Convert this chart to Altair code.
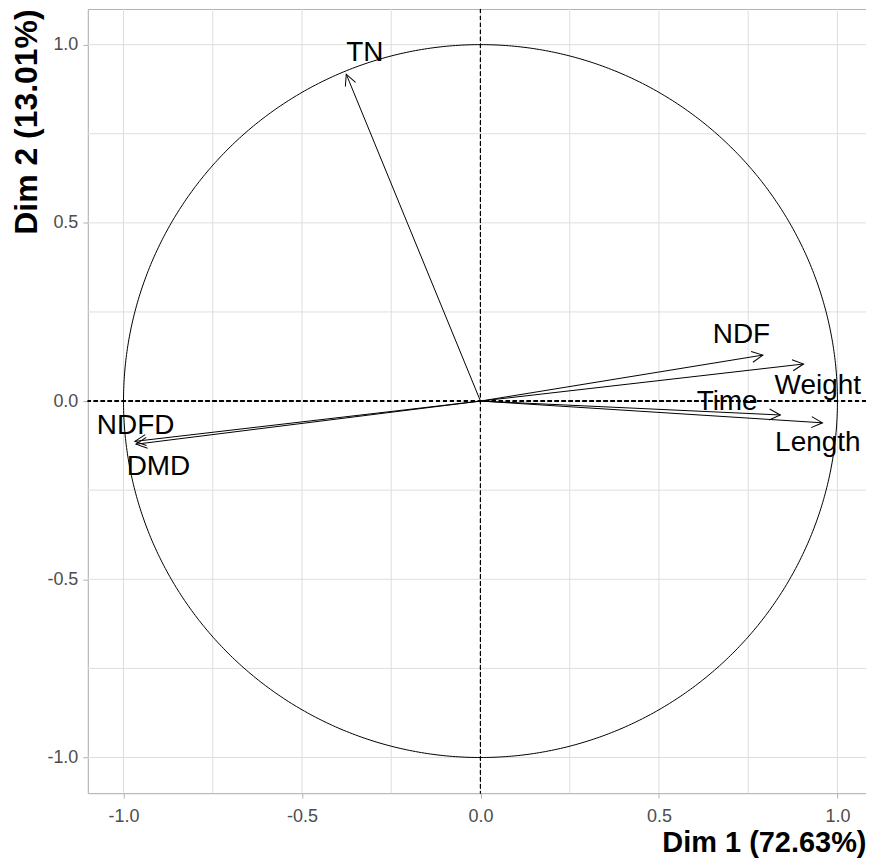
import altair as alt
import numpy as np
import pandas as pd

# ---- data ----
variables = ["TN", "NDF", "Weight", "Time", "Length", "NDFD", "DMD"]
dim1 = [-0.376, 0.791, 0.905, 0.840, 0.958, -0.968, -0.965]
dim2 = [0.917, 0.129, 0.104, -0.039, -0.061, -0.113, -0.121]
label_x = [-0.324, 0.731, 0.945, 0.691, 0.945, -0.966, -0.902]
label_y = [0.977, 0.185, 0.041, -0.004, -0.117, -0.069, -0.186]

tick_values = [-1.0, -0.5, 0.0, 0.5, 1.0]
grid_values = [-1.0, -0.75, -0.5, -0.25, 0.0, 0.25, 0.5, 0.75, 1.0]

x_title = "Dim 1 (72.63%)"
y_title = "Dim 2 (13.01%)"
x_domain = [-1.1, 1.08]
y_domain = [-1.1, 1.1]

FONT = "Liberation Sans"
BORDER = "#B3B3B3"
GRID = "#DEDEDE"
TEXT = "#4D4D4D"

# ---- tables ----
arrows = pd.DataFrame({"var": variables, "x": dim1, "y": dim2})
arrows["x0"] = 0.0
arrows["y0"] = 0.0
arrows["angle"] = (-np.degrees(np.arctan2(arrows["y"], arrows["x"]))) % 360
labels = pd.DataFrame({"var": variables, "lx": label_x, "ly": label_y})

theta = np.linspace(0, 2 * np.pi, 721)
circle = pd.DataFrame({"cx": np.cos(theta), "cy": np.sin(theta), "i": np.arange(len(theta))})
grid = pd.DataFrame({"g": grid_values})

xs = alt.Scale(domain=x_domain, nice=False, zero=False)
ys = alt.Scale(domain=y_domain, nice=False, zero=False)

label_expr = "datum.value < 0 ? '-' + format(-datum.value, '.1f') : format(datum.value, '.1f')"

x_axis = alt.Axis(values=tick_values, labelExpr=label_expr, grid=False, tickSize=5,
                  tickColor=BORDER, domainColor=BORDER, domainWidth=1, tickWidth=1,
                  labelFont=FONT, labelFontSize=18, labelColor=TEXT, labelPadding=9,
                  labelFlush=False, labelOverlap=False,
                  title=x_title, titleFont=FONT, titleFontSize=29, titleFontWeight="bold",
                  titleColor="black", titleAnchor="end", titlePadding=3)
y_axis = alt.Axis(values=tick_values, labelExpr=label_expr, grid=False, tickSize=5,
                  tickColor=BORDER, domainColor=BORDER, domainWidth=1, tickWidth=1,
                  labelFont=FONT, labelFontSize=18, labelColor=TEXT, labelPadding=5,
                  labelFlush=False, labelOverlap=False,
                  title=y_title, titleFont=FONT, titleFontSize=32, titleFontWeight="bold",
                  titleColor="black", titleAnchor="end", titlePadding=3)
top_axis = alt.Axis(orient="top", labels=False, ticks=False, grid=False, domain=True,
                    domainColor=BORDER, domainWidth=1, title=None)

vgrid = alt.Chart(grid).mark_rule(color=GRID, strokeWidth=1).encode(
    x=alt.X("g:Q", scale=xs, axis=top_axis))
hgrid = alt.Chart(grid).mark_rule(color=GRID, strokeWidth=1).encode(
    y=alt.Y("g:Q", scale=ys, axis=None))

hdash = alt.Chart(grid).mark_rule(color="black", strokeWidth=1, strokeDash=[4, 3]).encode(
    y=alt.YDatum(0, scale=ys, axis=None))
vdash = alt.Chart(grid).mark_rule(color="black", strokeWidth=1, strokeDash=[4, 3]).encode(
    x=alt.XDatum(0, scale=xs, axis=None))

circ = alt.Chart(circle).mark_line(color="black", strokeWidth=1).encode(
    x=alt.X("cx:Q", scale=xs, axis=x_axis),
    y=alt.Y("cy:Q", scale=ys, axis=y_axis),
    order="i:Q")

shafts = alt.Chart(arrows).mark_rule(color="black", strokeWidth=1).encode(
    x=alt.X("x0:Q", scale=xs, axis=None), y=alt.Y("y0:Q", scale=ys, axis=None),
    x2="x:Q", y2="y:Q")

heads = alt.Chart(arrows).mark_point(
    shape="M-1,-0.5L0,0L-1,0.5", filled=False, stroke="black", strokeWidth=1,
    size=484, opacity=1).encode(
    x=alt.X("x:Q", scale=xs, axis=None), y=alt.Y("y:Q", scale=ys, axis=None),
    angle=alt.Angle("angle:Q", scale=None))

texts = alt.Chart(labels).mark_text(font=FONT, fontSize=28, color="black",
                                    align="center", baseline="middle").encode(
    x=alt.X("lx:Q", scale=xs, axis=None), y=alt.Y("ly:Q", scale=ys, axis=None),
    text="var:N")

chart = alt.layer(vgrid, hgrid, hdash, vdash, circ, shafts, heads, texts).resolve_axis(
    x="independent", y="independent").properties(
    width=780, height=786,
    autosize=alt.AutoSizeParams(type="none"),
    padding={"left": 80, "top": 0, "right": 0, "bottom": 64},
).configure_view(stroke=None).configure(background="white")

chart.save("out.html", embed_options={"renderer": "svg", "actions": False})
